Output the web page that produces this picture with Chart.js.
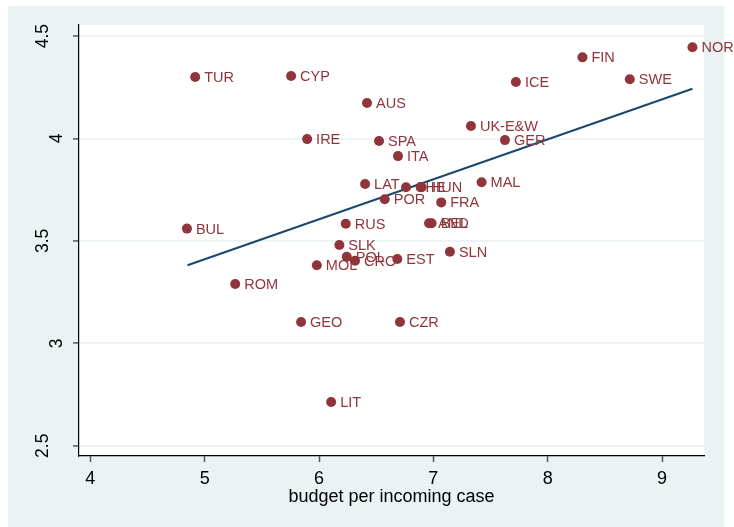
<!DOCTYPE html>
<html>
<head>
<meta charset="utf-8">
<script src="https://cdn.jsdelivr.net/npm/chart.js@4"></script>
<style>
  html, body { margin: 0; padding: 0; background: #ffffff; }
  #wrap { width: 734px; height: 527px; }
</style>
</head>
<body>
<div id="wrap"><canvas id="myChart" width="734" height="527"></canvas></div>
<script>
// data
const countries = ['NOR', 'FIN', 'SWE', 'TUR', 'CYP', 'ICE', 'AUS', 'UK-E&W', 'IRE', 'SPA',
  'GER', 'ITA', 'LAT', 'CHE', 'HUN', 'MAL', 'POR', 'FRA', 'BUL', 'RUS',
  'AND', 'BEL', 'SLK', 'SLN', 'POL', 'CRO', 'EST', 'MOL', 'ROM', 'GEO', 'CZR', 'LIT'];
const budget = [9.266, 8.304, 8.718, 4.917, 5.756, 7.722, 6.420, 7.329, 5.896, 6.525,
  7.626, 6.691, 6.403, 6.761, 6.898, 7.422, 6.575, 7.069, 4.845, 6.234,
  6.962, 6.985, 6.178, 7.145, 6.243, 6.315, 6.685, 5.981, 5.267, 5.843, 6.708, 6.106];
const score = [4.445, 4.396, 4.289, 4.300, 4.305, 4.276, 4.173, 4.061, 3.997, 3.988,
  3.992, 3.914, 3.778, 3.762, 3.762, 3.786, 3.703, 3.688, 3.560, 3.584,
  3.586, 3.586, 3.480, 3.447, 3.423, 3.403, 3.412, 3.381, 3.290, 3.104, 3.104, 2.714];

// fitted line end points
const fitX = [4.850, 9.266];
const fitY = [3.381, 4.243];

const xTicks = [4, 5, 6, 7, 8, 9];
const yTicks = [2.5, 3, 3.5, 4, 4.5];
const yTickLabels = ['2.5', '3', '3.5', '4', '4.5'];
const xTitle = 'budget per incoming case';

const maroon = '#90353b';
const navy = '#1a476f';
const panel = '#eaf2f3';
const fontFam = '"Liberation Sans", Arial, Helvetica, sans-serif';

// background panel + white plot region, point labels, rotated y labels
const stataLook = {
  id: 'stataLook',
  beforeDraw(chart) {
    const c = chart.ctx;
    const a = chart.chartArea;
    c.save();
    c.fillStyle = panel;
    c.fillRect(8, 6, 716, 521);
    c.fillStyle = '#ffffff';
    c.fillRect(a.left, a.top, a.right - a.left, a.bottom - a.top);
    c.restore();
  },
  afterDatasetsDraw(chart) {
    const c = chart.ctx;
    const meta = chart.getDatasetMeta(0);
    c.save();
    c.font = '14.5px ' + fontFam;
    c.fillStyle = maroon;
    c.textAlign = 'left';
    c.textBaseline = 'middle';
    meta.data.forEach(function(pt, i) {
      c.fillText(countries[i], pt.x + 9, pt.y + 1);
    });
    c.restore();
  },
  afterDraw(chart) {
    const c = chart.ctx;
    const ys = chart.scales.y;
    c.save();
    c.font = '17.5px ' + fontFam;
    c.fillStyle = '#000000';
    c.textAlign = 'center';
    c.textBaseline = 'alphabetic';
    yTicks.forEach(function(v, i) {
      const w = c.measureText(yTickLabels[i]).width;
      c.save();
      c.translate(72 - w, ys.getPixelForValue(v));
      c.rotate(-Math.PI / 2);
      c.fillText(yTickLabels[i], 0, 0);
      c.restore();
    });
    c.restore();
  }
};

const pointData = budget.map(function(b, i) { return { x: b, y: score[i] }; });
const fitData = fitX.map(function(b, i) { return { x: b, y: fitY[i] }; });

const ctx = document.getElementById('myChart');

new Chart(ctx, {
  type: 'scatter',
  data: {
    datasets: [
      {
        label: 'countries',
        data: pointData,
        pointRadius: 5,
        pointBackgroundColor: maroon,
        pointBorderColor: maroon,
        pointBorderWidth: 0,
        showLine: false
      },
      {
        label: 'fit',
        type: 'line',
        data: fitData,
        borderColor: navy,
        borderWidth: 2,
        pointRadius: 0,
        fill: false,
        tension: 0
      }
    ]
  },
  options: {
    responsive: false,
    animation: false,
    devicePixelRatio: 1,
    events: [],
    layout: { padding: { left: 8, top: 25, right: 30, bottom: 0 } },
    plugins: {
      legend: { display: false },
      tooltip: { enabled: false },
      title: { display: false }
    },
    scales: {
      x: {
        type: 'linear',
        min: 3.901,
        max: 9.367,
        afterBuildTicks: function(scale) {
          scale.ticks = xTicks.map(function(v) { return { value: v }; });
        },
        afterFit: function(scale) { scale.height = 71; },
        grid: {
          drawOnChartArea: false,
          drawTicks: true,
          tickLength: 6,
          tickColor: '#555555',
          tickWidth: 1.5
        },
        border: { display: true, color: '#000000', width: 1.2 },
        ticks: {
          color: '#000000',
          font: { family: fontFam, size: 18 },
          padding: 6,
          maxRotation: 0,
          minRotation: 0,
          callback: function(v) { return String(v); }
        },
        title: {
          display: true,
          text: xTitle,
          color: '#000000',
          font: { family: fontFam, size: 18 },
          padding: { top: 0, bottom: 19 }
        }
      },
      y: {
        type: 'linear',
        min: 2.45,
        max: 4.554,
        afterBuildTicks: function(scale) {
          scale.ticks = yTicks.map(function(v) { return { value: v }; });
        },
        afterFit: function(scale) { scale.width = 71; },
        grid: {
          drawOnChartArea: true,
          color: panel,
          lineWidth: 1.8,
          drawTicks: true,
          tickLength: 6,
          tickColor: '#555555',
          tickWidth: 1.5
        },
        border: { display: true, color: '#000000', width: 1.2 },
        ticks: {
          color: 'rgba(0,0,0,0)',
          font: { family: fontFam, size: 17 },
          padding: 3
        }
      }
    }
  },
  plugins: [stataLook]
});
</script>
</body>
</html>
